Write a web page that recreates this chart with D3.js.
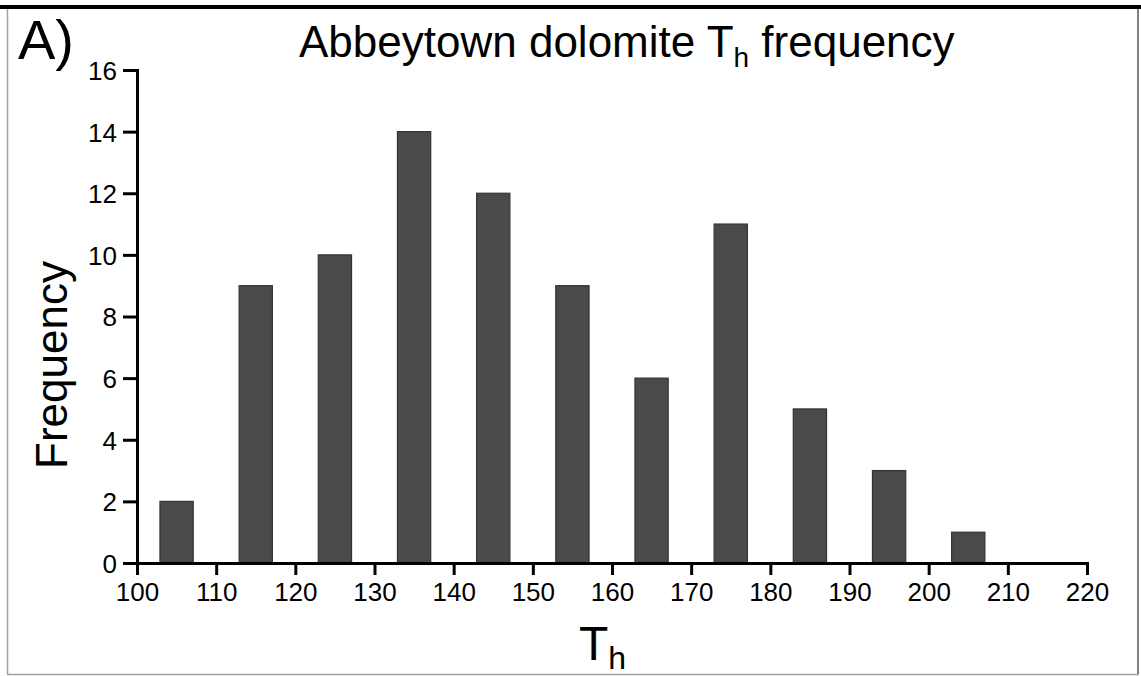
<!DOCTYPE html>
<html>
<head>
<meta charset="utf-8">
<script src="https://cdn.jsdelivr.net/npm/d3@7"></script>
<style>
  html, body { margin: 0; padding: 0; background: #fff; }
  svg { display: block; }
  text { font-family: "Liberation Sans", Arial, Helvetica, sans-serif; fill: #000; }
</style>
</head>
<body>
<svg id="chart" width="1141" height="676"></svg>
<script>
// Homogenisation temperature bins (lower edge, °C) and counts
const binStarts = [100, 110, 120, 130, 140, 150, 160, 170, 180, 190, 200];
const binWidth = 10;
const counts = [2, 9, 10, 14, 12, 9, 6, 11, 5, 3, 1];
const xTicks = [100, 110, 120, 130, 140, 150, 160, 170, 180, 190, 200, 210, 220];
const yTicks = [0, 2, 4, 6, 8, 10, 12, 14, 16];

const W = 1141, H = 676;
const svg = d3.select("#chart");

// panel frame
svg.append("rect").attr("x", 0).attr("y", 5).attr("width", W).attr("height", 4).attr("fill", "#000");
svg.append("line").attr("x1", 7.5).attr("x2", 7.5).attr("y1", 9).attr("y2", 674)
  .attr("stroke", "#a0a0a0").attr("stroke-width", 1.5);
svg.append("line").attr("x1", 1138).attr("x2", 1138).attr("y1", 9).attr("y2", 675)
  .attr("stroke", "#808080").attr("stroke-width", 2);
svg.append("line").attr("x1", 7).attr("x2", 1139).attr("y1", 674.5).attr("y2", 674.5)
  .attr("stroke", "#a0a0a0").attr("stroke-width", 1.5);

const x = d3.scaleLinear().domain([100, 220]).range([137, 1087]);
const y = d3.scaleLinear().domain([0, 16]).range([563, 70]);

// bars, centred in each bin
const barFrac = 0.42;
svg.append("g").selectAll("rect")
  .data(binStarts.map((b, i) => ({ b, c: counts[i] })))
  .join("rect")
  .attr("x", d => x(d.b + binWidth / 2 - binWidth * barFrac / 2))
  .attr("width", d => x(d.b + binWidth / 2 + binWidth * barFrac / 2) - x(d.b + binWidth / 2 - binWidth * barFrac / 2))
  .attr("y", d => y(d.c))
  .attr("height", d => y(0) - y(d.c))
  .attr("fill", "#4a4a4a")
  .attr("stroke", "#333")
  .attr("stroke-width", 1.2);

// axes
const xAxis = d3.axisBottom(x).tickValues(xTicks).tickSizeInner(12).tickSizeOuter(0).tickPadding(8);
const yAxis = d3.axisLeft(y).tickValues(yTicks).tickSizeInner(14).tickSizeOuter(0).tickPadding(6);

const gx = svg.append("g").attr("transform", `translate(0,${y(0)})`).call(xAxis);
const gy = svg.append("g").attr("transform", `translate(${x(100)},0)`).call(yAxis);

[gx, gy].forEach(g => {
  g.select(".domain").attr("stroke", "#000").attr("stroke-width", 3).attr("stroke-linecap", "square");
  g.selectAll(".tick line").attr("stroke", "#000").attr("stroke-width", 3);
  g.selectAll(".tick text").attr("font-size", 26).attr("fill", "#000")
    .attr("font-family", "'Liberation Sans', Arial, sans-serif");
});
gy.selectAll(".tick text").attr("dy", "0.36em");

// panel letter
svg.append("text").attr("x", 18).attr("y", 59).attr("font-size", 56).text("A)");

// title with subscript
const title = svg.append("text").attr("x", 299).attr("y", 57).attr("font-size", 44);
title.append("tspan").text("Abbeytown dolomite T");
title.append("tspan").attr("font-size", 28).attr("dy", 10).text("h");
title.append("tspan").attr("dy", -10).text(" frequency");

// axis titles
svg.append("text")
  .attr("transform", `translate(67,365) rotate(-90)`)
  .attr("text-anchor", "middle").attr("font-size", 44).text("Frequency");

const xl = svg.append("text").attr("x", 579).attr("y", 660).attr("font-size", 48);
xl.append("tspan").text("T");
xl.append("tspan").attr("font-size", 32).attr("dy", 9).text("h");
</script>
</body>
</html>
